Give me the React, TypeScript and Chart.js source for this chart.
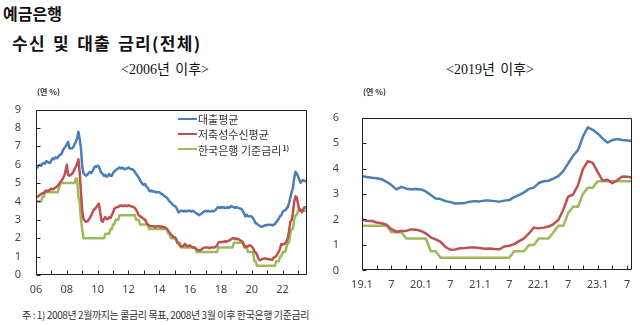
import React, { useEffect, useRef } from "react";
import { Chart, registerables } from "chart.js";
Chart.register(...registerables);

// ---- Data (monthly) ----
// 2006.01 - 2018.12
const loanLong = [
  5.80, 5.85, 5.95, 6.00, 5.95, 6.05, 6.10, 6.05, 6.20, 6.15, 6.12, 6.10,
  6.25, 6.35, 6.30, 6.40, 6.35, 6.40, 6.50, 6.55, 6.60, 6.80, 6.90, 7.00,
  7.10, 7.25, 6.90, 6.88, 6.90, 6.95, 7.10, 7.25, 7.45, 7.80, 7.40, 6.90,
  5.90, 5.55, 5.45, 5.40, 5.45, 5.55, 5.60, 5.55, 5.65, 5.80, 5.90, 5.88,
  5.95, 5.90, 5.70, 5.55, 5.50, 5.40, 5.45, 5.35, 5.40, 5.50, 5.40, 5.40,
  5.55, 5.65, 5.70, 5.75, 5.80, 5.85, 5.80, 5.85, 5.80, 5.75, 5.80, 5.80,
  5.85, 5.80, 5.75, 5.75, 5.70, 5.60, 5.50, 5.40, 5.30, 5.15, 5.05, 4.95,
  4.90, 4.95, 4.80, 4.75, 4.60, 4.55, 4.60, 4.55, 4.55, 4.50, 4.50, 4.52,
  4.50, 4.45, 4.40, 4.35, 4.30, 4.25, 4.20, 4.10, 4.00, 3.95, 3.85, 3.80,
  3.75, 3.70, 3.55, 3.40, 3.45, 3.50, 3.50, 3.45, 3.50, 3.45, 3.50, 3.48,
  3.50, 3.45, 3.50, 3.45, 3.40, 3.35, 3.30, 3.25, 3.30, 3.35, 3.40, 3.45,
  3.50, 3.45, 3.50, 3.45, 3.45, 3.50, 3.45, 3.50, 3.55, 3.65, 3.70, 3.65,
  3.70, 3.65, 3.70, 3.65, 3.65, 3.70, 3.65, 3.70, 3.75, 3.70, 3.70, 3.65,
];
const depositLong = [
  4.20, 4.25, 4.30, 4.35, 4.40, 4.45, 4.45, 4.55, 4.60, 4.55, 4.60, 4.65,
  4.70, 4.65, 4.70, 4.75, 4.80, 4.85, 4.95, 5.05, 5.15, 5.25, 5.40, 5.65,
  6.00, 5.45, 5.40, 5.45, 5.50, 5.60, 5.75, 5.90, 6.05, 6.30, 5.60, 4.50,
  3.50, 3.05, 2.95, 2.90, 2.92, 3.00, 3.10, 3.25, 3.40, 3.55, 3.60, 3.70,
  3.80, 3.88, 3.40, 2.95, 2.90, 3.05, 3.15, 3.05, 3.05, 3.15, 3.10, 3.25,
  3.40, 3.60, 3.65, 3.70, 3.70, 3.75, 3.80, 3.75, 3.75, 3.80, 3.75, 3.75,
  3.80, 3.75, 3.75, 3.70, 3.70, 3.65, 3.55, 3.40, 3.25, 3.20, 3.15, 3.10,
  3.05, 3.00, 2.85, 2.75, 2.70, 2.65, 2.65, 2.65, 2.65, 2.60, 2.65, 2.65,
  2.65, 2.60, 2.65, 2.60, 2.60, 2.55, 2.50, 2.40, 2.30, 2.20, 2.15, 2.05,
  2.05, 1.95, 1.80, 1.70, 1.60, 1.55, 1.55, 1.60, 1.70, 1.60, 1.55, 1.60,
  1.60, 1.55, 1.50, 1.50, 1.45, 1.40, 1.35, 1.35, 1.35, 1.40, 1.45, 1.50,
  1.50, 1.50, 1.50, 1.45, 1.50, 1.50, 1.50, 1.50, 1.55, 1.60, 1.75, 1.80,
  1.80, 1.80, 1.80, 1.85, 1.80, 1.85, 1.85, 1.90, 1.95, 2.00, 2.00, 1.95,
];
const baseLong = [
  4.0, 4.0, 4.0, 4.0, 4.0, 4.25, 4.25, 4.5, 4.5, 4.5, 4.5, 4.5,
  4.5, 4.5, 4.5, 4.5, 4.5, 4.5, 4.75, 5.0, 5.0, 5.0, 5.0, 5.0,
  5.0, 5.0, 5.0, 5.0, 5.0, 5.0, 5.0, 5.25, 5.25, 4.25, 4.0, 3.0,
  2.5, 2.0, 2.0, 2.0, 2.0, 2.0, 2.0, 2.0, 2.0, 2.0, 2.0, 2.0,
  2.0, 2.0, 2.0, 2.0, 2.0, 2.0, 2.25, 2.25, 2.25, 2.25, 2.5, 2.5,
  2.75, 2.75, 3.0, 3.0, 3.0, 3.25, 3.25, 3.25, 3.25, 3.25, 3.25, 3.25,
  3.25, 3.25, 3.25, 3.25, 3.25, 3.25, 3.0, 3.0, 3.0, 2.75, 2.75, 2.75,
  2.75, 2.75, 2.75, 2.75, 2.5, 2.5, 2.5, 2.5, 2.5, 2.5, 2.5, 2.5,
  2.5, 2.5, 2.5, 2.5, 2.5, 2.5, 2.5, 2.25, 2.25, 2.0, 2.0, 2.0,
  2.0, 2.0, 1.75, 1.75, 1.75, 1.5, 1.5, 1.5, 1.5, 1.5, 1.5, 1.5,
  1.5, 1.5, 1.5, 1.5, 1.5, 1.25, 1.25, 1.25, 1.25, 1.25, 1.25, 1.25,
  1.25, 1.25, 1.25, 1.25, 1.25, 1.25, 1.25, 1.25, 1.25, 1.25, 1.5, 1.5,
  1.5, 1.5, 1.5, 1.5, 1.5, 1.5, 1.5, 1.5, 1.5, 1.5, 1.75, 1.75,
];
// 2019.01 - 2023.08
const loanRecent = [
  3.70, 3.67, 3.64, 3.62, 3.58, 3.48, 3.35, 3.18, 3.28, 3.21, 3.19, 3.20,
  3.18, 3.10, 2.96, 2.82, 2.80, 2.72, 2.68, 2.63, 2.64, 2.65, 2.70, 2.72,
  2.71, 2.74, 2.74, 2.72, 2.70, 2.74, 2.76, 2.88, 2.96, 3.06, 3.20, 3.25,
  3.43, 3.50, 3.52, 3.60, 3.70, 3.90, 4.20, 4.50, 4.72, 5.25, 5.62, 5.52,
  5.38, 5.18, 5.02, 5.12, 5.16, 5.12, 5.10, 5.08,
];
const depositRecent = [
  1.99, 1.95, 1.94, 1.88, 1.85, 1.79, 1.62, 1.52, 1.55, 1.55, 1.61, 1.60,
  1.55, 1.45, 1.30, 1.22, 1.12, 0.92, 0.81, 0.82, 0.87, 0.88, 0.90, 0.90,
  0.88, 0.85, 0.86, 0.84, 0.83, 0.94, 0.97, 1.03, 1.15, 1.26, 1.45, 1.68,
  1.65, 1.68, 1.72, 1.82, 1.98, 2.38, 2.90, 2.98, 3.35, 3.98, 4.29, 4.22,
  3.87, 3.53, 3.56, 3.42, 3.55, 3.69, 3.68, 3.65,
];
const baseRecent = [
  1.75, 1.75, 1.75, 1.75, 1.75, 1.75, 1.5, 1.5, 1.5, 1.25, 1.25, 1.25,
  1.25, 1.25, 0.75, 0.75, 0.5, 0.5, 0.5, 0.5, 0.5, 0.5, 0.5, 0.5,
  0.5, 0.5, 0.5, 0.5, 0.5, 0.5, 0.5, 0.75, 0.75, 0.75, 1.0, 1.0,
  1.25, 1.25, 1.25, 1.5, 1.75, 1.75, 2.25, 2.5, 2.5, 3.0, 3.25, 3.25,
  3.5, 3.5, 3.5, 3.5, 3.5, 3.5, 3.5, 3.5,
];

const seriesNames = ["대출평균", "저축성수신평균", "한국은행 기준금리"];
const seriesColors = ["#4a7ebb", "#c0504d", "#9bbb59"];

const leftYTicks = [0, 1, 2, 3, 4, 5, 6, 7, 8, 9];
const rightYTicks = [0, 1, 2, 3, 4, 5, 6];
const leftYearLabels = ["06", "07", "08", "09", "10", "11", "12", "13", "14", "15", "16", "17", "18", "19", "20", "21", "22", "23"];
const rightQuarterLabels = ["19.1", "", "7", "", "20.1", "", "7", "", "21.1", "", "7", "", "22.1", "", "7", "", "23.1", "", "7"];

const loanAll = loanLong.concat(loanRecent);
const depositAll = depositLong.concat(depositRecent);
const baseAll = baseLong.concat(baseRecent);

const tickFont = { family: "'Noto Sans', 'DejaVu Sans', sans-serif", size: 11 };

const framePlugin = {
  id: "frame",
  afterDraw(chart: any) {
    const { ctx, chartArea: a, scales } = chart;
    ctx.save();
    ctx.strokeStyle = "#222";
    ctx.lineWidth = 1;
    const L = Math.round(a.left) + 0.5;
    const R = Math.round(a.right) - 0.5;
    const T = Math.round(a.top) + 0.5;
    const B = Math.round(a.bottom) - 0.5;
    ctx.beginPath();
    ctx.moveTo(L, T);
    ctx.lineTo(R, T);
    ctx.lineTo(R, B);
    ctx.lineTo(L, B);
    ctx.closePath();
    ctx.stroke();
    ctx.beginPath();
    scales.x.ticks.forEach((t: any) => {
      const px = Math.round(scales.x.getPixelForValue(t.value)) + 0.5;
      ctx.moveTo(px, B);
      ctx.lineTo(px, B - 4);
    });
    scales.y.ticks.forEach((t: any) => {
      const py = Math.round(scales.y.getPixelForValue(t.value)) + 0.5;
      ctx.moveTo(L, py);
      ctx.lineTo(L + 4, py);
    });
    ctx.stroke();
    ctx.restore();
  },
};

function makeConfig(
  loan: number[],
  dep: number[],
  base: number[],
  yMax: number,
  yTicks: number[],
  xStep: number,
  xLabels: string[],
  pad: { right: number; top: number },
  yWidth: number,
  yPad: number,
  xHeight: number
): any {
  const toXY = (arr: number[]) => arr.map((v, i) => ({ x: i, y: v }));
  const series = [loan, dep, base];
  return {
    type: "line",
    data: {
      datasets: series.map((s, i) => ({
        label: seriesNames[i],
        data: toXY(s),
        borderColor: seriesColors[i],
        backgroundColor: seriesColors[i],
        borderWidth: 2.5,
        pointRadius: 0,
        tension: 0,
        borderJoinStyle: "round",
      })),
    },
    options: {
      animation: false,
      responsive: false,
      maintainAspectRatio: false,
      layout: { padding: { left: 0, right: pad.right, top: pad.top, bottom: 0 } },
      plugins: { legend: { display: false }, tooltip: { enabled: false } },
      scales: {
        x: {
          type: "linear",
          min: 0,
          max: loan.length - 1,
          grid: { display: false, drawTicks: false },
          border: { display: false },
          afterFit: (s: any) => {
            s.height = xHeight;
          },
          afterBuildTicks: (s: any) => {
            s.ticks = xLabels.map((_, i) => ({ value: i * xStep }));
          },
          ticks: {
            autoSkip: false,
            maxRotation: 0,
            padding: 8,
            color: "#444",
            font: tickFont,
            callback: (v: number) => xLabels[Math.round(v / xStep)] ?? "",
          },
        },
        y: {
          min: 0,
          max: yMax,
          grid: { display: false, drawTicks: false },
          border: { display: false },
          afterFit: (s: any) => {
            s.width = yWidth;
          },
          afterBuildTicks: (s: any) => {
            s.ticks = yTicks.map((v) => ({ value: v }));
          },
          ticks: {
            padding: yPad,
            color: "#444",
            font: tickFont,
            callback: (v: number) => String(v),
          },
        },
      },
    },
    plugins: [framePlugin],
  };
}

function LeftChart() {
  const ref = useRef<HTMLCanvasElement>(null);
  useEffect(() => {
    const leftLabels = leftYearLabels.map((l, i) => (i % 2 === 0 ? l : ""));
    const chart = new Chart(
      ref.current!,
      makeConfig(loanAll, depositAll, baseAll, 9, leftYTicks, 12, leftLabels, { right: 13, top: 9 }, 36, 15, 25)
    );
    return () => chart.destroy();
  }, []);
  return (
    <canvas
      ref={ref}
      width={320}
      height={212}
      style={{ position: "absolute", left: 0, top: 88, width: 320, height: 212 }}
    />
  );
}

function RightChart() {
  const ref = useRef<HTMLCanvasElement>(null);
  useEffect(() => {
    const chart = new Chart(
      ref.current!,
      makeConfig(loanRecent, depositRecent, baseRecent, 6, rightYTicks, 3, rightQuarterLabels, { right: 8, top: 8 }, 42, 23, 26)
    );
    return () => chart.destroy();
  }, []);
  return (
    <canvas
      ref={ref}
      width={320}
      height={212}
      style={{ position: "absolute", left: 320, top: 88, width: 320, height: 212 }}
    />
  );
}

const krSans = "'Noto Sans CJK KR', 'Noto Sans', sans-serif";
const krSerif = "'Liberation Serif', 'DejaVu Serif', 'Noto Sans CJK KR', serif";

export default function App() {
  const abs = (s: React.CSSProperties): React.CSSProperties => ({ position: "absolute", whiteSpace: "nowrap", ...s });
  return (
    <div
      style={{
        position: "fixed",
        left: 0,
        top: 0,
        width: 640,
        height: 325,
        background: "#fff",
        overflow: "hidden",
        fontFamily: krSans,
      }}
    >
      <div style={abs({ left: 3, top: 5, fontSize: 16, lineHeight: "17px", fontWeight: 700, color: "#111" })}>예금은행</div>
      <div
        style={abs({ left: 12, top: 33, fontSize: 17, lineHeight: "19px", fontWeight: 700, color: "#111", letterSpacing: "1.3px", wordSpacing: "2px" })}
      >
        수신 및 대출 금리(전체)
      </div>
      <div style={abs({ left: 105, top: 62, width: 120, textAlign: "center", fontSize: 14, lineHeight: "16px", fontFamily: krSerif, color: "#111", wordSpacing: "2px" })}>
        &lt;2006년 이후&gt;
      </div>
      <div style={abs({ left: 430, top: 62, width: 120, textAlign: "center", fontSize: 14, lineHeight: "16px", fontFamily: krSerif, color: "#111", wordSpacing: "2px" })}>
        &lt;2019년 이후&gt;
      </div>

      <LeftChart />
      <RightChart />

      <div style={abs({ left: 37, top: 87, fontSize: 8, lineHeight: "10px", fontWeight: 700, color: "#333" })}>(연 %)</div>
      <div style={abs({ left: 363, top: 87, fontSize: 8, lineHeight: "10px", fontWeight: 700, color: "#333" })}>(연 %)</div>

      {seriesNames.map((n, i) => (
        <div key={n} style={abs({ left: 178, top: 112 + i * 15, height: 14, display: "flex", alignItems: "center" })}>
          <span style={{ display: "inline-block", width: 19, height: 2.5, background: seriesColors[i], marginRight: 1 }} />
          <span style={{ fontSize: 11, lineHeight: "14px", color: "#333" }}>
            {n}
            {i === 2 ? <sup style={{ fontSize: 7, fontWeight: 700, verticalAlign: "4px", marginLeft: 1 }}>1)</sup> : null}
          </span>
        </div>
      ))}

      <div style={abs({ left: 22, top: 309, fontSize: 10, lineHeight: "12px", color: "#333", letterSpacing: "-0.4px" })}>
        주 : 1) 2008년 2월까지는 콜금리 목표, 2008년 3월 이후 한국은행 기준금리
      </div>
    </div>
  );
}
